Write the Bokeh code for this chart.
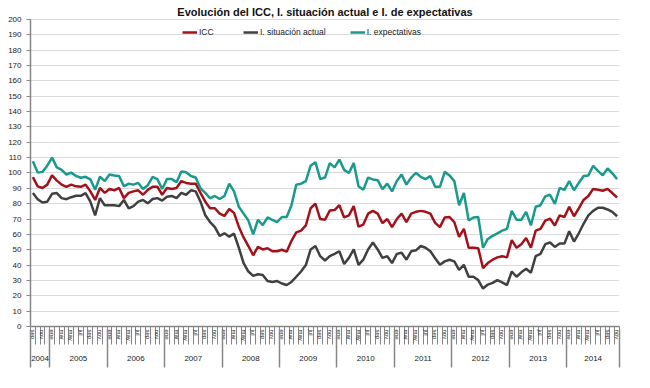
from bokeh.plotting import figure
from bokeh.models import (LinearAxis, FixedTicker, Range1d, Legend, LegendItem,
                          ColumnDataSource, Label)
from bokeh.embed import file_html
from bokeh.resources import INLINE

# ---------------- data (monthly, Sep 2004 - Nov 2014) ----------------
month_names = ["ene", "feb", "mar", "abr", "may", "jun",
               "jul", "ago", "sep", "oct", "nov", "dic"]
first_month = 8          # index of "sep"
year_labels = ["2004", "2005", "2006", "2007", "2008", "2009",
               "2010", "2011", "2012", "2013", "2014"]

icc = [97.3, 91.3, 90.2, 92.4,
       98.4, 95, 92.4, 91, 92.4, 91.3, 91, 92.4, 88, 82.4, 90.2, 87,
       89.6, 88.7, 90.2, 83.6, 87, 88, 88.7, 85.8, 89, 91, 91, 85.8,
       90.2, 89.5, 90.2, 94.7, 93.5, 93, 93, 87, 81.3, 77, 77, 73.5,
       72, 76.5, 74, 65, 58, 52.4, 46.4, 51.8, 50.2, 51, 49, 49,
       50, 48.7, 55.8, 61.3, 62.4, 65.8, 77, 80, 70, 69.5, 75.5, 75.8,
       79, 71, 72.4, 78.4, 65, 66.4, 73.5, 75.3, 73.5, 67.3, 70, 64.7,
       70, 73.5, 68, 73.5, 74.7, 75.3, 74.7, 73.5, 67.5, 64.7, 71, 71.3,
       68, 58.4, 63.6, 51.3, 51.3, 51, 38, 41.3, 43.5, 45, 45.8, 45,
       56.2, 51.3, 53.6, 57.6, 51.3, 62.4, 63.6, 69, 70.2, 65.8, 72.4, 71.3,
       78, 71.8, 76.9, 82.4, 85, 89.6, 89, 88.4, 89.6, 86.9, 84]

situacion = [86.9, 82.9, 80.7, 81.3,
             86.4, 86.9, 83.6, 82.9, 84.2, 85.1, 85.1, 86.9, 81.3, 72.4, 83.6, 79,
             79, 79, 78.4, 82.4, 76.9, 78.4, 81.3, 82.4, 80.2, 83, 83.6, 82,
             84.5, 85, 83.6, 87, 85.8, 88.7, 88, 81.3, 72.4, 68, 64.7, 59,
             60.7, 58.5, 60.5, 51.3, 41.3, 35.8, 33, 34, 33.6, 29.6, 29, 29.6,
             28, 27, 29, 32.4, 35.8, 40, 50.2, 52.4, 45.8, 43, 45.8, 47.3,
             49, 40.7, 44.7, 50.2, 40.2, 43.5, 50.2, 54.7, 50.2, 44.7, 45.8, 41.3,
             47.3, 48, 43.5, 49, 49.6, 52.4, 51.3, 49, 44.5, 40.2, 42.4, 43.5,
             42.4, 36.9, 40.2, 32.4, 32.4, 30.2, 24.7, 27.3, 28.4, 30.2, 28.7, 26.9,
             35.8, 32.4, 35.3, 37.6, 35, 45.8, 47.3, 53.6, 54.7, 51.8, 54, 54,
             62, 55.3, 60.7, 66.9, 72.4, 75.3, 77.3, 77.3, 76.2, 74.7, 71.8]

expectativas = [107.6, 100.2, 100.7, 104.7,
                110, 103.6, 102, 99, 100.2, 98, 96.9, 97.5, 95.8, 89, 97.5, 94.7,
                99, 98.4, 98, 91.3, 93, 92.4, 93.5, 89.5, 92, 97.5, 96, 89.5,
                96, 96, 94, 101, 100.5, 98, 97, 90, 87, 83.5, 85, 83,
                85, 93, 88, 78, 73.5, 69, 60, 69.5, 66, 71, 69.5, 68,
                71.3, 71.3, 79, 92.4, 93, 94.7, 104.7, 107, 96, 97, 106.4, 103.6,
                108.7, 102, 100, 106.4, 91.3, 89, 97, 95.8, 95.3, 89.5, 93, 88,
                94.7, 99, 92.4, 97, 100, 97.5, 96, 98, 91, 91, 100.7, 98.4,
                94.7, 79, 86.9, 69, 71, 71.3, 51.3, 57, 59, 60.7, 62.4, 63.6,
                75.3, 69.5, 69.5, 74.7, 65.8, 78, 79, 84.7, 85.8, 79.8, 90.2, 89,
                94.7, 88.7, 93.5, 98, 98.4, 104.7, 101.3, 98.4, 102.9, 99.8, 96]

y_ticks = list(range(0, 201, 10))
title_text = "Evolución del ICC, I. situación actual e I. de expectativas"

# ---------------- derived positions ----------------
n = len(icc)
xs = [i + 0.5 for i in range(n)]
month_of = [(first_month + i) % 12 for i in range(n)]

year_bounds = [0] + [i for i in range(1, n) if month_of[i] == 0] + [n]
year_centers = [(a + b) / 2 for a, b in zip(year_bounds[:-1], year_bounds[1:])]

label_ticks = [i + 0.5 for i in range(0, n, 2)]
label_over = {i + 0.5: month_names[month_of[i]] for i in range(0, n, 2)}

FONT = "Liberation Sans"
AX = "#868686"

p = figure(width=634, height=372, output_backend="svg", toolbar_location=None,
           title=None,
           x_range=Range1d(0, n), y_range=Range1d(0, 211),
           x_axis_location=None, min_border_left=30, min_border_right=15,
           min_border_top=2, min_border_bottom=46, outline_line_color=None)

# y axis
p.yaxis.ticker = FixedTicker(ticks=y_ticks)
p.yaxis.bounds = (0, 200)
p.yaxis.major_label_text_font = FONT
p.yaxis.major_label_text_font_size = "8px"
p.yaxis.major_label_text_color = "#222222"
p.yaxis.axis_line_color = AX
p.yaxis.axis_line_width = 1.5
p.yaxis.major_tick_line_color = AX
p.yaxis.major_tick_out = 4
p.yaxis.major_tick_in = 0
p.yaxis.minor_tick_out = 0
p.yaxis.minor_tick_in = 0
p.yaxis.major_label_standoff = 5

p.ygrid.ticker = FixedTicker(ticks=y_ticks)
p.ygrid.grid_line_color = "#dadada"
p.xgrid.grid_line_color = None

# title (inside the top band of the frame, above the 200 line)
p.add_layout(Label(x=n * 0.5, y=205, text=title_text,
                   text_align="center", text_baseline="middle",
                   text_font=FONT, text_font_size="11px", text_font_style="bold",
                   text_color="#111111"))

# month axis
ax_m = LinearAxis(ticker=FixedTicker(ticks=label_ticks, minor_ticks=list(range(0, n + 1))),
                  major_label_overrides=label_over,
                  major_label_orientation="vertical",
                  major_tick_out=0, major_tick_in=0,
                  minor_tick_out=18, minor_tick_in=0,
                  minor_tick_line_color=AX,
                  axis_line_color=AX, axis_line_width=1.5,
                  major_label_text_font=FONT, major_label_text_font_size="6px",
                  major_label_text_color="#222222",
                  major_label_standoff=-15,
                  axis_label=None, axis_label_standoff=0)
p.add_layout(ax_m, "below")

# year axis
ax_y = LinearAxis(ticker=FixedTicker(ticks=year_centers, minor_ticks=year_bounds),
                  major_label_overrides={c: y for c, y in zip(year_centers, year_labels)},
                  major_tick_out=0, major_tick_in=0,
                  minor_tick_in=14, minor_tick_out=24,
                  minor_tick_line_color=AX, minor_tick_line_width=1.5,
                  axis_line_color=None,
                  major_label_text_font=FONT, major_label_text_font_size="8px",
                  major_label_text_color="#222222",
                  major_label_standoff=-12,
                  axis_label=None, axis_label_standoff=0)
p.add_layout(ax_y, "below")

src = ColumnDataSource(dict(x=xs, icc=icc, sit=situacion, exp=expectativas))
r1 = p.line("x", "icc", source=src, line_color="#a3121b", line_width=2.5)
r2 = p.line("x", "sit", source=src, line_color="#404040", line_width=2.5)
r3 = p.line("x", "exp", source=src, line_color="#1a9a8c", line_width=2.5)

legend = Legend(items=[LegendItem(label="ICC", renderers=[r1]),
                       LegendItem(label="I. situación actual", renderers=[r2]),
                       LegendItem(label="I. expectativas", renderers=[r3])],
                orientation="horizontal", location=(152, 289),
                background_fill_alpha=0, border_line_color=None,
                label_text_font=FONT, label_text_font_size="8.5px",
                label_text_color="#222222",
                glyph_width=15, glyph_height=10, label_standoff=2,
                spacing=24, padding=0, margin=0, label_height=10)
p.add_layout(legend, "center")

open("out.html", "w").write(file_html(p, INLINE))
